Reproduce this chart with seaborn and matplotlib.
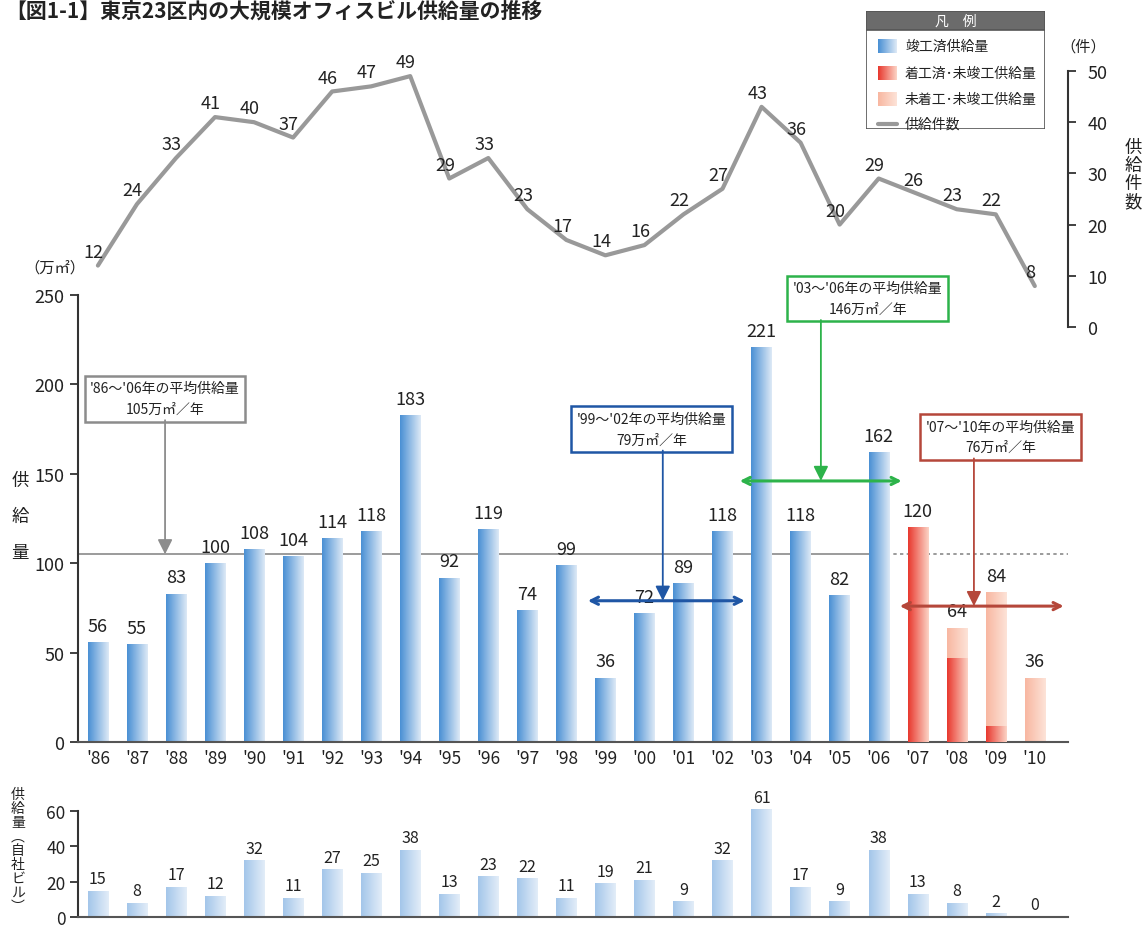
import numpy as np
import pandas as pd
import matplotlib
matplotlib.use("Agg")
import matplotlib.pyplot as plt
import seaborn as sns
from matplotlib.colors import LinearSegmentedColormap

# data
years = ["'86", "'87", "'88", "'89", "'90", "'91", "'92", "'93", "'94", "'95", "'96", "'97",
         "'98", "'99", "'00", "'01", "'02", "'03", "'04", "'05", "'06", "'07", "'08", "'09", "'10"]
supply_total = [56, 55, 83, 100, 108, 104, 114, 118, 183, 92, 119, 74, 99, 36, 72, 89, 118,
                221, 118, 82, 162, 120, 64, 84, 36]
under_construction = [0] * 21 + [120, 47, 9, 0]
n_completed = 21
supply_count = [12, 24, 33, 41, 40, 37, 46, 47, 49, 29, 33, 23, 17, 14, 16, 22, 27, 43, 36, 20,
                29, 26, 23, 22, 8]
own_building = [15, 8, 17, 12, 32, 11, 27, 25, 38, 13, 23, 22, 11, 19, 21, 9, 32, 61, 17, 9,
                38, 13, 8, 2, 0]

avg_all = 105
periods = [  # label, value, color, box center (x, y), arrow x, span
    ("'86〜'06年の平均供給量\n105万㎡／年", 105, "#8c8c8c", (1.72, 192), 1.72, None),
    ("'99〜'02年の平均供給量\n79万㎡／年", 79, "#1f56a5", (14.19, 175), 14.47, (12.55, 16.57)),
    ("'03〜'06年の平均供給量\n146万㎡／年", 146, "#2db34a", (19.72, 248), 18.52, (16.44, 20.59)),
    ("'07〜'10年の平均供給量\n76万㎡／年", 76, "#b5473a", (23.13, 170.6), 22.44, (20.54, 24.74)),
]

BLUE = ("#4a90d4", "#dde9f6")
RED = ("#e8392f", "#fcd3c5")
PALE = ("#f8b7a1", "#fde3d8")
LBLUE = ("#a3c6ea", "#e3edf8")

sns.set_style("white")
plt.rcParams['font.family'] = ['Noto Sans CJK JP', 'DejaVu Sans']
TXT = "#222222"


def grad_fill(ax, patch, colors, z):
    h = patch.get_height()
    if h <= 0:
        patch.set_visible(False)
        return
    x0, y0, w = patch.get_x(), patch.get_y(), patch.get_width()
    cmap = LinearSegmentedColormap.from_list("g", list(colors))
    im = ax.imshow(np.linspace(0, 1, 64).reshape(1, -1), cmap=cmap, aspect="auto",
                   extent=(x0, x0 + w, y0, y0 + h), origin="lower", zorder=z)
    im.set_clip_path(patch)
    patch.set_facecolor("none")
    patch.set_edgecolor("none")


W, H = 1144, 928
fig = plt.figure(figsize=(W / 100, H / 100), dpi=100)


def px_axes(left, top, right, bottom):
    return fig.add_axes([left / W, 1 - bottom / H, (right - left) / W, (bottom - top) / H])


XL = (-0.51, 24.85)

# ---- main bar chart
ax = px_axes(78, 296, 1068, 743)
df = pd.DataFrame({"year": years, "total": supply_total, "uc": under_construction})
sns.barplot(data=df, x="year", y="total", color="#888888", width=0.52, errorbar=None, ax=ax)
sns.barplot(data=df, x="year", y="uc", color="#888888", width=0.52, errorbar=None, ax=ax)
bars = ax.patches
total_bars = bars[:len(years)]
uc_bars = bars[len(years):2 * len(years)]
for i, p in enumerate(total_bars):
    grad_fill(ax, p, BLUE if i < n_completed else PALE, 2)
for i, p in enumerate(uc_bars):
    grad_fill(ax, p, RED, 3)
for i, v in enumerate(supply_total):
    ax.text(i, v + 4, str(v), ha="center", va="bottom", fontsize=13, color=TXT, zorder=5)

ax.set_xlim(*XL)
ax.set_ylim(0, 250)
ax.set_yticks([0, 50, 100, 150, 200, 250])
ax.set_xlabel("")
ax.set_ylabel("")
ax.tick_params(axis="y", direction="out", length=6, width=1.3, color="#333333",
               labelsize=13, labelcolor=TXT, pad=4, left=True)
ax.tick_params(axis="x", length=0, labelsize=12.5, labelcolor=TXT, pad=5)
for s in ["top", "right"]:
    ax.spines[s].set_visible(False)
ax.spines["left"].set_color("#333333")
ax.spines["left"].set_linewidth(1.5)
ax.spines["bottom"].set_color("#555555")
ax.spines["bottom"].set_linewidth(1.5)
ax.patch.set_alpha(0)

# overall average line
ax.plot([XL[0], 20.03], [avg_all, avg_all], color="#8a8a8a", lw=1.2, zorder=1)
ax.plot([20.03, XL[1]], [avg_all, avg_all], color="#8a8a8a", lw=1.2, ls=(0, (2, 2)), zorder=1)

for label, val, col, (bx, by), arx, span in periods:
    ax.text(bx, by, label, ha="center", va="center", fontsize=10, color=TXT, linespacing=1.6,
            zorder=6, bbox=dict(boxstyle="square,pad=0.4", fc="white", ec=col, lw=1.8))
    ax.annotate("", xy=(arx, val), xytext=(arx, by - 12),
                arrowprops=dict(arrowstyle="-|>", color=col, lw=1.3, mutation_scale=22,
                                shrinkA=0, shrinkB=0), zorder=6)
    if span is not None:
        ax.annotate("", xy=(span[1], val), xytext=(span[0], val),
                    arrowprops=dict(arrowstyle="<->", color=col, lw=2.2, mutation_scale=13,
                                    shrinkA=0, shrinkB=0), zorder=6)

# ---- count line on top
ax2 = px_axes(78, 72, 1068, 328)
sns.lineplot(x=list(range(len(years))), y=supply_count, color="#999999", lw=3, ax=ax2)
for i, v in enumerate(supply_count):
    ax2.annotate(str(v), (i, v), xytext=(-3, 10), textcoords="offset points", ha="center",
                 va="center", fontsize=13, color=TXT)
ax2.set_xlim(*XL)
ax2.set_ylim(0, 50)
ax2.patch.set_alpha(0)
for s in ["top", "left", "bottom"]:
    ax2.spines[s].set_visible(False)
ax2.spines["right"].set_color("#333333")
ax2.spines["right"].set_linewidth(1.5)
ax2.set_xticks([])
ax2.yaxis.tick_right()
ax2.set_yticks([0, 10, 20, 30, 40, 50])
ax2.tick_params(axis="y", direction="out", length=6, width=1.3, color="#333333",
                labelsize=13, labelcolor=TXT, pad=8, right=True)

# ---- own-building bars at the bottom
ax3 = px_axes(78, 806.7, 1068, 918)
sns.barplot(x=years, y=own_building, color="#888888", width=0.52, errorbar=None, ax=ax3)
for p in ax3.patches:
    grad_fill(ax3, p, LBLUE, 2)
for i, v in enumerate(own_building):
    ax3.text(i, v + 2, str(v), ha="center", va="bottom", fontsize=11.5, color=TXT)
ax3.set_xlim(*XL)
ax3.set_ylim(0, 63)
ax3.set_yticks([0, 20, 40, 60])
ax3.set_xticks([])
ax3.spines["left"].set_bounds(0, 60)
for s in ["top", "right"]:
    ax3.spines[s].set_visible(False)
ax3.spines["left"].set_color("#333333")
ax3.spines["left"].set_linewidth(1.5)
ax3.spines["bottom"].set_color("#555555")
ax3.spines["bottom"].set_linewidth(1.5)
ax3.tick_params(axis="y", direction="out", length=6, width=1.3, color="#333333",
                labelsize=12.5, labelcolor=TXT, pad=3, left=True)
ax3.patch.set_alpha(0)

# ---- legend box
lg = px_axes(866, 12, 1045, 130)
lg.axis("off")
lg.add_patch(plt.Rectangle((0, 0), 179, 118, fc="white", ec="#555555", lw=1.2, zorder=1))
lg.add_patch(plt.Rectangle((0, 0), 179, 19, fc="#6b6b6b", ec="#555555", lw=1.2, zorder=2))
lg.text(89.5, 9.5, "凡　例", ha="center", va="center", color="white", fontsize=10, zorder=4)
legend_items = [("竣工済供給量", BLUE), ("着工済･未竣工供給量", RED), ("未着工･未竣工供給量", PALE)]
for k, (name, cols) in enumerate(legend_items):
    yc = 35 + k * 26.5
    sw = plt.Rectangle((12, yc - 7), 19, 14, fc="none", ec="none", zorder=3)
    lg.add_patch(sw)
    im = lg.imshow(np.linspace(0, 1, 32).reshape(1, -1),
                   cmap=LinearSegmentedColormap.from_list("l", list(cols)),
                   extent=(12, 31, yc + 7, yc - 7), aspect="auto", zorder=3)
    im.set_clip_path(sw)
    lg.text(39, yc, name, ha="left", va="center", fontsize=10, color=TXT, zorder=4)
lg.plot([12, 31], [113, 113], color="#999999", lw=3, zorder=3)
lg.text(39, 113, "供給件数", ha="left", va="center", fontsize=10, color=TXT, zorder=4)
lg.set_xlim(0, 179)
lg.set_ylim(118, 0)

# ---- texts around
fig.text(5 / W, 1 - 1 / H, "【図1-1】東京23区内の大規模オフィスビル供給量の推移", ha="left",
         va="top", fontsize=15, fontweight="bold", color=TXT)
fig.text(55 / W, 1 - 268 / H, "（万㎡）", ha="center", va="center", fontsize=11, color=TXT)
fig.text(1083 / W, 1 - 47 / H, "（件）", ha="center", va="center", fontsize=11, color=TXT)
fig.text(20 / W, 1 - 517 / H, "供\n給\n量", ha="center", va="center", fontsize=12.5,
         color=TXT, linespacing=2.3)
fig.text(1133 / W, 1 - 175 / H, "供\n給\n件\n数", ha="center", va="center", fontsize=12.5,
         color=TXT, linespacing=1.0)
fig.text(18 / W, 1 - 788 / H, "供\n給\n量\n︵\n自\n社\nビ\nル\n︶", ha="center", va="top",
         fontsize=10, color=TXT, linespacing=1.0)

fig.savefig("out.png", dpi=100)
